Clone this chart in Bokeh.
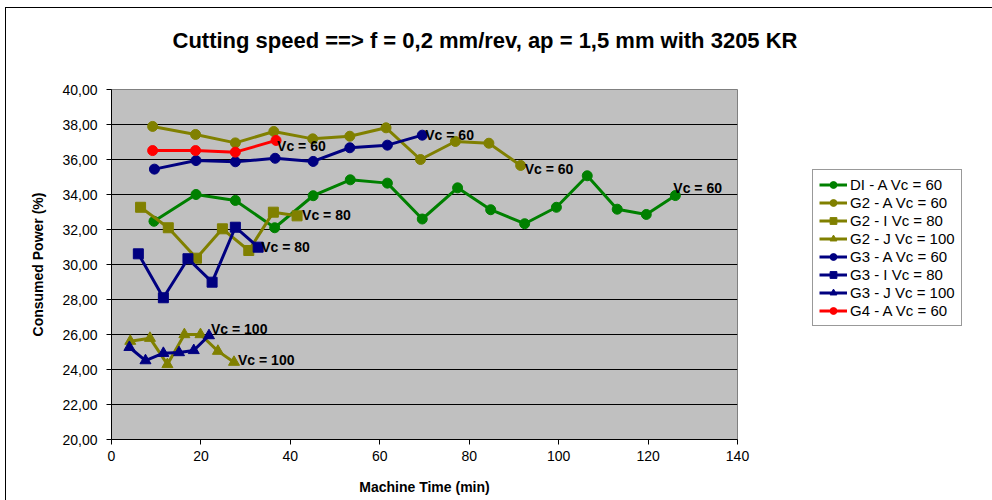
from bokeh.plotting import figure
from bokeh.models import ColumnDataSource, Legend, LegendItem, FixedTicker
from bokeh.embed import file_html
from bokeh.resources import INLINE
from bokeh.core.properties import value

# ---------------- data ----------------
series_names = ["DI - A Vc = 60", "G2 - A Vc = 60", "G2 - I Vc = 80", "G2 - J Vc = 100",
                "G3 - A Vc = 60", "G3 - I Vc = 80", "G3 - J Vc = 100", "G4 - A Vc = 60"]
end_labels = ["Vc = 60", "Vc = 60", "Vc = 80", "Vc = 100",
              "Vc = 60", "Vc = 80", "Vc = 100", "Vc = 60"]

di_a_x = [9.5, 18.9, 27.7, 36.5, 45.1, 53.4, 61.7, 69.5, 77.4, 84.8, 92.4, 99.5, 106.4, 113.1, 119.6, 126.1]
di_a_y = [32.47, 34.00, 33.66, 32.10, 33.93, 34.84, 34.65, 32.60, 34.38, 33.13, 32.33, 33.27, 35.07, 33.16, 32.86, 33.94]

g2_a_x = [9.2, 18.8, 27.7, 36.3, 45.0, 53.3, 61.4, 69.1, 76.9, 84.4, 91.5]
g2_a_y = [37.89, 37.43, 36.95, 37.60, 37.18, 37.33, 37.81, 36.00, 37.03, 36.93, 35.66]

g2_i_x = [6.5, 12.7, 19.0, 24.8, 30.7, 36.2, 41.5]
g2_i_y = [33.27, 32.10, 30.36, 32.04, 30.80, 32.99, 32.78]

g2_j_x = [4.2, 8.6, 12.5, 16.3, 19.9, 23.8, 27.4]
g2_j_y = [25.62, 25.79, 24.29, 26.00, 26.00, 25.05, 24.42]

g3_a_x = [9.6, 18.9, 27.7, 36.6, 45.1, 53.3, 61.7, 69.5]
g3_a_y = [35.45, 35.94, 35.87, 36.07, 35.89, 36.67, 36.82, 37.39]

g3_i_x = [6.0, 11.6, 17.1, 22.5, 27.7, 32.8]
g3_i_y = [30.61, 28.10, 30.33, 28.99, 32.13, 30.99]

g3_j_x = [4.0, 7.6, 11.6, 15.1, 18.4, 21.8]
g3_j_y = [25.27, 24.51, 24.93, 24.97, 25.09, 25.94]

g4_a_x = [9.2, 18.8, 27.7, 36.8]
g4_a_y = [36.51, 36.51, 36.42, 37.09]

y_ticks = [20, 22, 24, 26, 28, 30, 32, 34, 36, 38, 40]
y_tick_labels = ["20,00", "22,00", "24,00", "26,00", "28,00", "30,00",
                 "32,00", "34,00", "36,00", "38,00", "40,00"]
x_ticks = [0, 20, 40, 60, 80, 100, 120, 140]

# ---------------- styles ----------------
GREEN, OLIVE, NAVY, RED = "#008000", "#808000", "#000080", "#FF0000"
xs = [di_a_x, g2_a_x, g2_i_x, g2_j_x, g3_a_x, g3_i_x, g3_j_x, g4_a_x]
ys = [di_a_y, g2_a_y, g2_i_y, g2_j_y, g3_a_y, g3_i_y, g3_j_y, g4_a_y]
colors = [GREEN, OLIVE, OLIVE, OLIVE, NAVY, NAVY, NAVY, RED]
markers = ["circle", "circle", "square", "triangle", "circle", "square", "triangle", "circle"]
msizes = [10, 10, 10, 11, 10, 10, 11, 10]
label_dx = [-2, 4, 5, 4, 3, 3, 2, 1]
label_dy = [-8, 4, -1, -2, 0, 0, -7, 6]

FONT = "Liberation Sans"

p = figure(frame_width=626, frame_height=350, x_range=(0, 140), y_range=(20, 40),
           output_backend="svg", toolbar_location=None,
           min_border_left=105, min_border_right=249, min_border_top=81, min_border_bottom=61,
           margin=(7, 0, 0, 5))
p.styles = {"border-left": "1px solid #000000", "border-top": "1px solid #000000"}

p.background_fill_color = "#C0C0C0"
p.border_fill_color = "white"
p.outline_line_color = "#808080"
p.outline_line_width = 1

p.title.text = "Cutting speed ==> f = 0,2 mm/rev, ap = 1,5 mm  with 3205 KR\n"
p.title.text_font = FONT
p.title.text_font_size = "22px"
p.title.text_font_style = "bold"
p.title.align = "left"
p.title.vertical_align = "top"
p.title.offset = 61
p.title.standoff = 20
p.title.text_color = "#000000"

p.xgrid.grid_line_color = None
p.ygrid.grid_line_color = "#000000"
p.ygrid.grid_line_width = 1

p.xaxis.ticker = FixedTicker(ticks=x_ticks)
p.yaxis.ticker = FixedTicker(ticks=y_ticks)
p.yaxis.major_label_overrides = {t: lab for t, lab in zip(y_ticks, y_tick_labels)}

for ax in (p.xaxis, p.yaxis):
    ax.axis_line_color = "#000000"
    ax.major_tick_line_color = "#000000"
    ax.major_tick_out = 5
    ax.major_tick_in = 0
    ax.minor_tick_line_color = None
    ax.major_label_text_font = FONT
    ax.major_label_text_font_size = "14px"
    ax.major_label_text_color = "#000000"
    ax.axis_label_text_font = FONT
    ax.axis_label_text_font_size = "14px"
    ax.axis_label_text_font_style = "bold"
    ax.axis_label_text_color = "#000000"

p.xaxis.axis_label = "Machine Time (min)"
p.yaxis.axis_label = "Consumed Power (%)"
p.yaxis.major_label_standoff = 9
p.yaxis.axis_label_standoff = 13
p.xaxis.major_label_standoff = 6
p.xaxis.axis_label_standoff = 15

items = []
for name, x, y, c, m, s in zip(series_names, xs, ys, colors, markers, msizes):
    src = ColumnDataSource(dict(x=x, y=y))
    r1 = p.line("x", "y", source=src, line_color=c, line_width=3)
    r2 = p.scatter("x", "y", source=src, marker=m, size=s, fill_color=c, line_color=c)
    items.append(LegendItem(label=name, renderers=[r1, r2]))

lab_src = ColumnDataSource(dict(
    x=[x[-1] for x in xs], y=[y[-1] for y in ys], text=end_labels,
    dx=label_dx, dy=label_dy))
p.text("x", "y", text="text", source=lab_src, x_offset="dx", y_offset="dy",
       text_font=value(FONT), text_font_size="14px", text_font_style="bold",
       text_color="#000000", text_align="left", text_baseline="middle")

legend = Legend(items=items, location=(75, 113))
legend.label_text_font = FONT
legend.label_text_font_size = "15px"
legend.label_text_color = "#000000"
legend.glyph_width = 28
legend.glyph_height = 17
legend.label_height = 17
legend.label_standoff = 3
legend.spacing = 1
legend.padding = 6
legend.margin = 0
legend.border_line_color = "#333333"
legend.border_line_width = 1
legend.background_fill_color = "white"
legend.background_fill_alpha = 1
p.add_layout(legend, "right")

open("out.html", "w").write(file_html(p, INLINE))
